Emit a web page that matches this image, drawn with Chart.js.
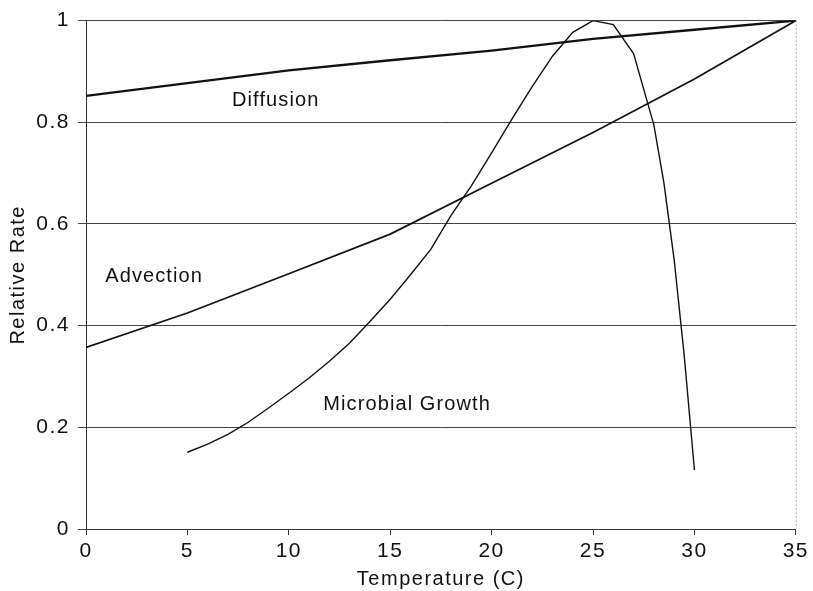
<!DOCTYPE html>
<html>
<head>
<meta charset="utf-8">
<script src="https://cdn.jsdelivr.net/npm/chart.js@4.4.1/dist/chart.umd.min.js"></script>
<style>
  html, body { margin: 0; padding: 0; background: #fff; }
  #wrap { width: 813px; height: 591px; position: relative; }
</style>
</head>
<body>
<div id="wrap"><canvas id="c" width="813" height="591"></canvas></div>
<script>
// Temperature (C) grids for each process
const diffusionTemp = [0, 5, 10, 15, 20, 25, 30, 35];
const diffusionRate = [0.852, 0.877, 0.902, 0.922, 0.941, 0.964, 0.982, 1.0];

const advectionTemp = [0, 5, 10, 15, 20, 25, 30, 35];
const advectionRate = [0.357, 0.425, 0.502, 0.580, 0.680, 0.780, 0.885, 1.0];

const microbialTemp = [5, 6, 7, 8, 9, 10, 11, 12, 13, 14, 15, 16, 17, 18, 19, 20, 21, 22, 23, 24, 25, 26, 27, 28, 28.5, 29, 29.5, 30];
const microbialRate = [0.151, 0.167, 0.186, 0.210, 0.238, 0.267, 0.297, 0.330, 0.366, 0.408, 0.452, 0.500, 0.550, 0.617, 0.675, 0.740, 0.806, 0.870, 0.930, 0.977, 1.0, 0.992, 0.935, 0.795, 0.680, 0.530, 0.340, 0.116];

// Axis ticks
const xTicks = [0, 5, 10, 15, 20, 25, 30, 35];
const yTicks = [0, 0.2, 0.4, 0.6, 0.8, 1];

// Curve names, written beside the curves (left edge x, vertical centre y in data units)
const curveNames = ['Diffusion', 'Advection', 'Microbial Growth'];
const curveNameAt = [[7.2, 0.843], [0.95, 0.497], [11.7, 0.244]];

const FONT = "'Liberation Sans', 'DejaVu Sans', sans-serif";
const INK = '#111';

function pts(xs, ys) { return xs.map((x, i) => ({ x, y: ys[i] })); }

// wide, typewriter-like spacing for all text on the canvas
const spacing = {
  id: 'spacing',
  beforeLayout(chart) { if ('letterSpacing' in chart.ctx) chart.ctx.letterSpacing = '1.5px'; },
  beforeDraw(chart) { if ('letterSpacing' in chart.ctx) chart.ctx.letterSpacing = '1.5px'; }
};

const curveLabels = {
  id: 'curveLabels',
  afterDatasetsDraw(chart) {
    const { ctx, chartArea, scales: { x, y } } = chart;
    ctx.save();
    // dotted right-hand frame
    ctx.strokeStyle = '#888';
    ctx.lineWidth = 1;
    ctx.setLineDash([1, 3]);
    ctx.beginPath();
    ctx.moveTo(chartArea.right + 0.5, chartArea.top);
    ctx.lineTo(chartArea.right + 0.5, chartArea.bottom);
    ctx.stroke();
    ctx.setLineDash([]);
    ctx.fillStyle = INK;
    ctx.font = '20px ' + FONT;
    ctx.textAlign = 'left';
    ctx.textBaseline = 'middle';
    if ('letterSpacing' in ctx) ctx.letterSpacing = '1.1px';
    curveNames.forEach((name, i) => {
      const [tx, ty] = curveNameAt[i];
      ctx.fillText(name, x.getPixelForValue(tx), y.getPixelForValue(ty));
    });
    ctx.restore();
  }
};

new Chart(document.getElementById('c'), {
  type: 'scatter',
  data: {
    datasets: [
      { label: curveNames[0], data: pts(diffusionTemp, diffusionRate), showLine: true, borderColor: INK, borderWidth: 2.3, pointRadius: 0, tension: 0 },
      { label: curveNames[1], data: pts(advectionTemp, advectionRate), showLine: true, borderColor: INK, borderWidth: 1.7, pointRadius: 0, tension: 0 },
      { label: curveNames[2], data: pts(microbialTemp, microbialRate), showLine: true, borderColor: INK, borderWidth: 1.4, pointRadius: 0, tension: 0 }
    ]
  },
  options: {
    responsive: false,
    animation: false,
    layout: { padding: { top: 20, right: 14, left: 0, bottom: 0 } },
    plugins: { legend: { display: false }, tooltip: { enabled: false } },
    scales: {
      x: {
        type: 'linear',
        min: xTicks[0],
        max: xTicks[xTicks.length - 1],
        afterBuildTicks: s => { s.ticks = xTicks.map(v => ({ value: v })); },
        afterFit: s => { s.height = 62; },
        grid: { drawOnChartArea: false, drawTicks: true, tickLength: 6, color: '#333' },
        border: { display: true, color: '#333', width: 1 },
        ticks: { color: INK, font: { family: FONT, size: 21 }, padding: 4, maxRotation: 0, callback: v => String(v) },
        title: { display: true, text: 'Temperature (C)', color: INK, font: { family: FONT, size: 20 }, padding: { top: 0, bottom: 0 } }
      },
      y: {
        type: 'linear',
        min: yTicks[0],
        max: yTicks[yTicks.length - 1],
        afterBuildTicks: s => { s.ticks = yTicks.map(v => ({ value: v })); },
        afterFit: s => { s.width = 86; },
        grid: { drawOnChartArea: true, drawTicks: true, tickLength: 8, color: '#444', lineWidth: 1 },
        border: { display: true, color: '#333', width: 1 },
        ticks: { color: INK, font: { family: FONT, size: 21 }, padding: 8, callback: v => String(+Number(v).toFixed(1)) },
        title: { display: true, text: 'Relative Rate', color: INK, font: { family: FONT, size: 20 }, padding: { top: 6, bottom: 0 } }
      }
    }
  },
  plugins: [spacing, curveLabels]
});
</script>
</body>
</html>
